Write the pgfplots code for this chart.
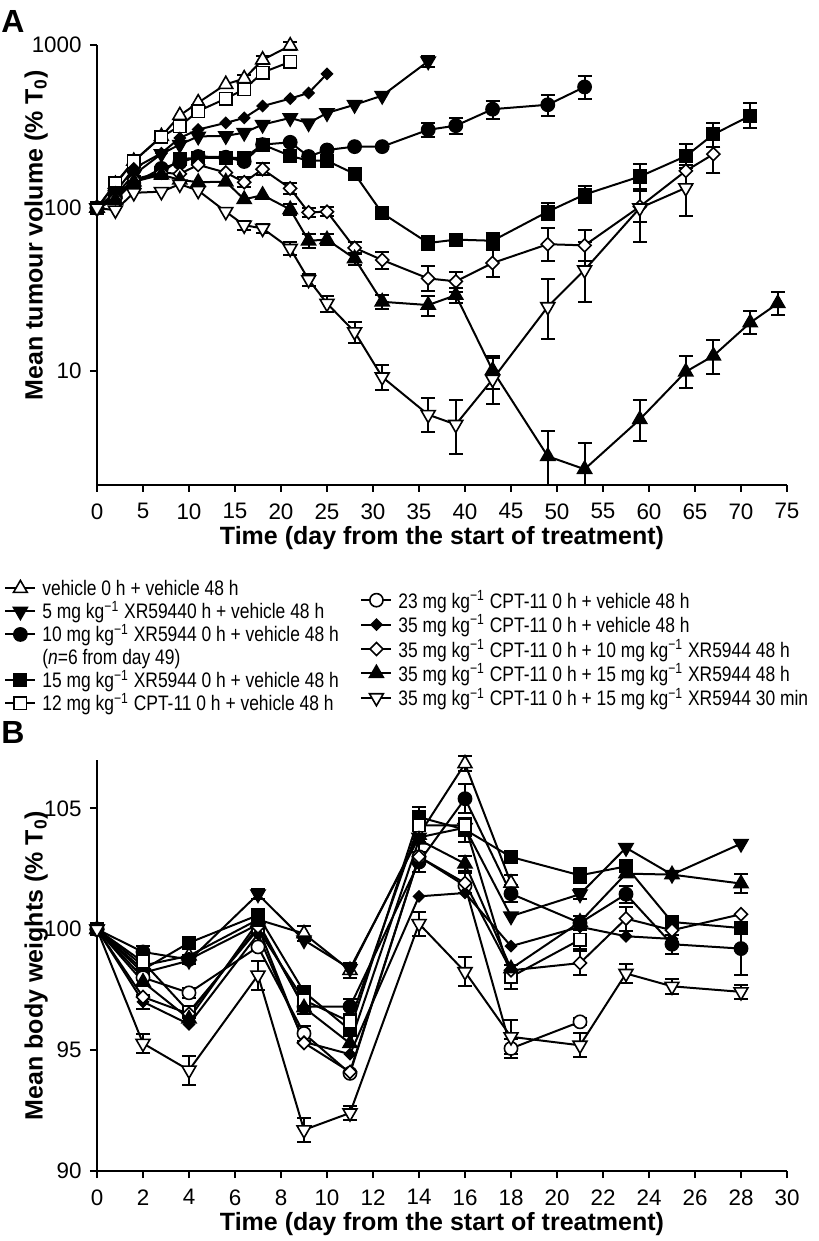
\documentclass[border=0pt]{standalone}
\usepackage{pgfplots}
\pgfplotsset{compat=1.18}
\usepackage{fontspec}
\setmainfont{Liberation Sans}
\newfontfamily\condfont{Liberation Sans}[FakeStretch=0.83]
\newcommand\ticksize{\fontsize{11.2bp}{13bp}\selectfont}
\newcommand\labsize{\fontsize{12.5bp}{15bp}\selectfont\bfseries}
\newcommand\legfont{\condfont\fontsize{10.5bp}{12bp}\selectfont}
\newcommand\kgi{kg\textsuperscript{−1}}
\newcommand\ls{\rule[-2.75bp]{0pt}{11.75bp}}
\newcommand\rs{\rule[-3.4bp]{0pt}{13.1bp}}
\pgfplotsset{
  every axis/.append style={
    scale only axis, axis lines=left, axis line style={-, line width=1bp},
    tick align=outside, major tick length=3.5bp, tick style={line width=1bp, black},
    tick label style={font=\ticksize}, label style={font=\labsize},
    xticklabel style={inner sep=1bp, yshift=-4.5bp}, yticklabel style={inner sep=1.5bp, xshift=-2.5bp},
    /pgf/number format/assume math mode=true, clip=false,
    legend image code/.code={\draw[mark repeat=2,mark phase=2,#1] plot coordinates {(0bp,0bp)(7.5bp,0bp)(15bp,0bp)};},
    legend cell align=left,
  },
  sVeh/.style={black, line width=1bp, mark=triangle*, mark size=4bp, mark options={solid, line width=0.8bp, fill=white}},
  sFive/.style={black, line width=1bp, mark=triangle*, mark size=4bp, mark options={solid, line width=0.8bp, fill=black, rotate=180}},
  sTen/.style={black, line width=1bp, mark=*, mark size=3.3bp, mark options={solid, line width=0.8bp, fill=black}},
  sFift/.style={black, line width=1bp, mark=square*, mark size=3.1bp, mark options={solid, line width=0.8bp, fill=black}},
  sTwel/.style={black, line width=1bp, mark=square*, mark size=3.1bp, mark options={solid, line width=0.8bp, fill=white}},
  sTwTh/.style={black, line width=1bp, mark=*, mark size=3.3bp, mark options={solid, line width=0.8bp, fill=white}},
  sCptV/.style={black, line width=1bp, mark=square*, mark size=1.9bp, mark options={solid, line width=0.8bp, fill=black, rotate=45}},
  sCptT/.style={black, line width=1bp, mark=square*, mark size=2.3bp, mark options={solid, line width=0.8bp, fill=white, rotate=45}},
  sCptF/.style={black, line width=1bp, mark=triangle*, mark size=4bp, mark options={solid, line width=0.8bp, fill=black}},
  sCptM/.style={black, line width=1bp, mark=triangle*, mark size=4bp, mark options={solid, line width=0.8bp, fill=white, rotate=180}},
  errs/.style={only marks, mark=none, forget plot, black,
    error bars/.cd, y dir=both, y explicit, error bar style={line width=1bp, black},
    error mark=|, error mark options={line width=1bp, mark size=3.5bp, black}},
  legbase/.style={draw=none, fill=none, font=\legfont, inner sep=0pt, row sep=0pt,
    nodes={inner sep=0.5bp}, /tikz/every odd column/.style={column sep=2.5bp}},
}
\begin{document}
\begin{tikzpicture}
\useasboundingbox (0bp,0bp) rectangle (409.5bp,-620.5bp);
\node[font=\fontsize{16bp}{18bp}\selectfont\bfseries] at (6.5bp,-10.5bp) {A};
\node[font=\fontsize{16bp}{18bp}\selectfont\bfseries] at (6.5bp,-366bp) {B};
% ---------------- Panel A ----------------
\begin{axis}[at={(48.5bp,-22.5bp)}, anchor=north west, width=345bp, height=220bp,
  xmin=0, xmax=75, ymode=log, ymin=2, ymax=1000, yminorticks=false,
  xtick={0,5,...,75}, ytick={10,100,1000}, yticklabels={10,100,1000},
  xlabel={Time (day from the start of treatment)},
  ylabel={Mean tumour volume (\% T\textsubscript{0})},
  xlabel style={at={(axis description cs:0.5,-0.12)}, anchor=center},
  ylabel style={at={(axis description cs:-0.088,0.568)}, anchor=center},
  legend style={legbase, at={(axis description cs:-0.1348,-0.208)}, anchor=north west},
]
% error bars
\addplot[errs] table[x=x,y=y,y error plus=ep,y error minus=em,row sep=\\]{x y ep em\\ 16 622 35 35\\ 18 811 45 45\\ 21 990 55 55\\};
\addplot[errs] table[x=x,y=y,y error plus=ep,y error minus=em,row sep=\\]{x y ep em\\ 21 789 30 30\\};
\addplot[errs] table[x=x,y=y,y error plus=ep,y error minus=em,row sep=\\]{x y ep em\\ 36 795 60 60\\};
\addplot[errs] table[x=x,y=y,y error plus=ep,y error minus=em,row sep=\\]{x y ep em\\ 36 302 30 30\\ 39 320 35 35\\ 43 404 50 50\\ 49 430 65 65\\ 53 553 90 85\\};
\addplot[errs] table[x=x,y=y,y error plus=ep,y error minus=em,row sep=\\]{x y ep em\\ 36 61 6 6\\ 39 64 4 4\\ 43 63 7 7\\ 49 95 12 11\\ 53 121 15 14\\ 59 156 30 26\\ 64 208 38 33\\ 67 283 50 45\\ 71 368 70 60\\};
\addplot[errs] table[x=x,y=y,y error plus=ep,y error minus=em,row sep=\\]{x y ep em\\ 16 144 10 10\\ 18 173 15 14\\ 21 132 10 10\\ 23 94 6 6\\ 25 95 6 6\\ 28 57 5 5\\ 31 48 6 6\\ 36 37 7 6\\ 39 35.5 5 5\\ 43 46 9 8\\ 49 60 15 13\\ 53 59 14 12\\ 59 102 25 20\\ 64 169 35 30\\ 67 214 60 50\\};
\addplot[errs] table[x=x,y=y,y error plus=ep,y error minus=em,row sep=\\]{x y ep em\\ 21 98 8 8\\ 23 63 6 6\\ 25 64 5 5\\ 28 49 4 4\\ 31 26.6 2.5 2.5\\ 36 25.4 3.5 3.5\\ 39 29.2 3 3\\ 43 10.1 2.3 2.3\\ 49 3.0 1.3 1.0\\ 53 2.5 1.1 0.5\\ 59 5.05 1.6 1.3\\ 64 9.9 2.4 2.0\\ 67 12.4 3.2 2.8\\ 71 19.8 3.6 3.0\\ 74 26 4.5 4\\};
\addplot[errs] table[x=x,y=y,y error plus=ep,y error minus=em,row sep=\\]{x y ep em\\ 16 78.5 5 5\\ 18 75 5 5\\ 21 56.5 5 5\\ 23 36.4 3 3\\ 25 26 3 3\\ 28 17.4 2.5 2.5\\ 31 9.2 1.7 1.5\\ 36 5.4 1.4 1.2\\ 39 4.7 1.9 1.6\\ 43 8.9 3.2 2.6\\ 49 24.8 12 9\\ 53 41.7 20 15\\ 59 100 70 38\\ 64 133 50 44\\};
% series
\addplot[sVeh, forget plot] coordinates {(0,100)(2,140)(4,194)(7,275)(9,370)(11,443)(14,574)(16,622)(18,811)(21,990)};
\addplot[sTwel, forget plot] coordinates {(0,100)(2,142)(4,194)(7,273)(9,318)(11,393)(14,469)(16,535)(18,678)(21,789)};
\addplot[sCptV, forget plot] coordinates {(0,100)(2,125)(4,175)(7,217)(9,269)(11,303)(14,333)(16,357)(18,422)(21,469)(23,508)(25,665)};
\addplot[sFive, forget plot] coordinates {(0,100)(2,120)(4,160)(7,215)(9,245)(11,275)(14,277)(16,290)(18,325)(21,357)(23,332)(25,383)(28,430)(31,489)(36,795)};
\addplot[sTen, forget plot] coordinates {(0,100)(2,117)(4,142)(7,175)(9,190)(11,207)(14,205)(16,193)(18,245)(21,253)(23,207)(25,227)(28,238)(31,238)(36,302)(39,320)(43,404)(49,430)(53,553)};
\addplot[sFift, forget plot] coordinates {(0,100)(2,123)(4,145)(7,164)(9,200)(11,203)(14,203)(16,203)(18,245)(21,209)(23,195)(25,195)(28,162)(31,93)(36,61)(39,64)(43,63)(49,95)(53,121)(59,156)(64,208)(67,283)(71,368)};
\addplot[sCptT, forget plot] coordinates {(0,100)(2,115)(4,150)(7,165)(9,162)(11,184)(14,165)(16,144)(18,173)(21,132)(23,94)(25,95)(28,57)(31,48)(36,37)(39,35.5)(43,46)(49,60)(53,59)(59,102)(64,169)(67,214)};
\addplot[sCptF, forget plot] coordinates {(0,100)(2,112)(4,145)(7,160)(9,149)(11,144)(14,145)(16,113)(18,120)(21,98)(23,63)(25,64)(28,49)(31,26.6)(36,25.4)(39,29.2)(43,10.1)(49,3.0)(53,2.5)(59,5.05)(64,9.9)(67,12.4)(71,19.8)(74,26)};
\addplot[sCptM, forget plot] coordinates {(0,100)(2,97)(4,124)(7,126)(9,140)(11,128)(14,95)(16,78.5)(18,75)(21,56.5)(23,36.4)(25,26)(28,17.4)(31,9.2)(36,5.4)(39,4.7)(43,8.9)(49,24.8)(53,41.7)(59,100)(64,133)};
% legend (left column)
\addlegendimage{sVeh}\addlegendentry{\ls vehicle 0 h + vehicle 48 h}
\addlegendimage{sFive}\addlegendentry{\ls 5 mg \kgi{} XR59440 h + vehicle 48 h}
\addlegendimage{sTen}\addlegendentry{\ls 10 mg \kgi{} XR5944 0 h + vehicle 48 h}
\addlegendimage{empty legend}\addlegendentry{\ls (\textit{n}=6 from day 49)}
\addlegendimage{sFift}\addlegendentry{\ls 15 mg \kgi{} XR5944 0 h + vehicle 48 h}
\addlegendimage{sTwel}\addlegendentry{\ls 12 mg \kgi{} CPT-11 0 h + vehicle 48 h}
\end{axis}
% ---------------- Panel B ----------------
\begin{axis}[at={(48.5bp,-380bp)}, anchor=north west, width=345bp, height=205.5bp,
  xmin=0, xmax=30, ymin=90, ymax=107,
  xtick={0,2,...,30}, ytick={90,95,100,105},
  xlabel={Time (day from the start of treatment)},
  ylabel={Mean body weights (\% T\textsubscript{0})},
  xlabel style={at={(axis description cs:0.5,-0.128)}, anchor=center},
  ylabel style={at={(axis description cs:-0.088,0.5)}, anchor=center},
  legend style={legbase, at={(axis description cs:0.3812,1.4195)}, anchor=north west},
]
\addplot[errs] table[x=x,y=y,y error=e,row sep=\\]{x y e\\ 9 99.82 0.3\\ 11 98.3 0.3\\ 14 103.9 0.3\\ 16 106.85 0.3\\ 18 101.91 0.35\\};
\addplot[errs] table[x=x,y=y,y error=e,row sep=\\]{x y e\\ 7 101.45 0.2\\ 16 104.2 0.3\\ 21 101.45 0.2\\};
\addplot[errs] table[x=x,y=y,y error=e,row sep=\\]{x y e\\ 2 99.06 0.25\\ 4 98.75 0.2\\ 9 96.8 0.3\\ 11 96.8 0.3\\ 14 102.78 0.4\\ 16 105.4 0.6\\ 18 101.47 0.35\\ 21 100.26 0.3\\ 23 101.45 0.35\\ 25 99.38 0.4\\ 28 99.2 1.1\\};
\addplot[errs] table[x=x,y=y,y error=e,row sep=\\]{x y e\\ 14 104.64 0.4\\ 16 104.12 0.5\\ 21 102.23 0.3\\ 23 102.6 0.2\\};
\addplot[errs] table[x=x,y=y,y error=e,row sep=\\]{x y e\\ 2 98.65 0.3\\ 18 98.03 0.5\\ 21 99.57 0.4\\};
\addplot[errs] table[x=x,y=y,y error=e,row sep=\\]{x y e\\ 4 97.37 0.2\\ 9 95.69 0.3\\ 18 95.07 0.4\\ 21 96.17 0.15\\};
\addplot[errs] table[x=x,y=y,y error=e,row sep=\\]{x y e\\ 2 97.0 0.3\\};
\addplot[errs] table[x=x,y=y,y error=e,row sep=\\]{x y e\\ 16 101.91 0.4\\ 21 98.6 0.5\\ 23 100.44 0.5\\};
\addplot[errs] table[x=x,y=y,y error=e,row sep=\\]{x y e\\ 14 103.7 0.5\\ 16 102.71 0.3\\ 28 101.89 0.4\\};
\addplot[errs] table[x=x,y=y,y error=e,row sep=\\]{x y e\\ 2 95.28 0.4\\ 4 94.17 0.6\\ 7 98.1 0.6\\ 9 91.7 0.5\\ 11 92.4 0.3\\ 14 100.23 0.5\\ 16 98.24 0.6\\ 18 95.55 0.7\\ 21 95.2 0.5\\ 23 98.17 0.4\\ 25 97.64 0.3\\ 28 97.41 0.3\\};
\addplot[sVeh, forget plot] coordinates {(0,100)(2,98.5)(4,98.9)(7,100.4)(9,99.82)(11,98.3)(14,103.9)(16,106.85)(18,101.91)};
\addplot[sFive, forget plot] coordinates {(0,100)(2,98.2)(4,98.7)(7,101.45)(9,99.55)(11,98.37)(14,103.8)(16,104.2)(18,100.54)(21,101.45)(23,103.37)(25,102.26)(28,103.54)};
\addplot[sTen, forget plot] coordinates {(0,100)(2,99.06)(4,98.75)(7,100.2)(9,96.8)(11,96.8)(14,102.78)(16,105.4)(18,101.47)(21,100.26)(23,101.45)(25,99.38)(28,99.2)};
\addplot[sFift, forget plot] coordinates {(0,100)(2,98.33)(4,99.44)(7,100.58)(9,97.41)(11,95.83)(14,104.64)(16,104.12)(18,102.99)(21,102.23)(23,102.6)(25,100.3)(28,100.05)};
\addplot[sTwel, forget plot] coordinates {(0,100)(2,98.65)(4,96.58)(7,100.0)(9,97.07)(11,96.17)(14,104.3)(16,104.3)(18,98.03)(21,99.57)};
\addplot[sTwTh, forget plot] coordinates {(0,100)(2,98.0)(4,97.37)(7,99.27)(9,95.69)(11,94.04)(14,103.0)(16,101.8)(18,95.07)(21,96.17)};
\addplot[sCptV, forget plot] coordinates {(0,100)(2,97.0)(4,96.07)(7,99.8)(9,95.34)(11,94.83)(14,101.36)(16,101.5)(18,99.3)(21,100.1)(23,99.71)(25,99.6)};
\addplot[sCptT, forget plot] coordinates {(0,100)(2,97.2)(4,96.5)(7,100.1)(9,95.3)(11,94.1)(14,103.0)(16,101.91)(18,98.3)(21,98.6)(23,100.44)(25,99.96)(28,100.62)};
\addplot[sCptF, forget plot] coordinates {(0,100)(2,97.82)(4,96.3)(7,100.3)(9,96.76)(11,95.28)(14,103.7)(16,102.71)(18,98.37)(21,100.3)(23,102.3)(25,102.26)(28,101.89)};
\addplot[sCptM, forget plot] coordinates {(0,100)(2,95.28)(4,94.17)(7,98.1)(9,91.7)(11,92.4)(14,100.23)(16,98.24)(18,95.55)(21,95.2)(23,98.17)(25,97.64)(28,97.41)};
% legend (right column)
\addlegendimage{sTwTh}\addlegendentry{\rs 23 mg \kgi{} CPT-11 0 h + vehicle 48 h}
\addlegendimage{sCptV}\addlegendentry{\rs 35 mg \kgi{} CPT-11 0 h + vehicle 48 h}
\addlegendimage{sCptT}\addlegendentry{\rs 35 mg \kgi{} CPT-11 0 h + 10 mg \kgi{} XR5944 48 h}
\addlegendimage{sCptF}\addlegendentry{\rs 35 mg \kgi{} CPT-11 0 h + 15 mg \kgi{} XR5944 48 h}
\addlegendimage{sCptM}\addlegendentry{\rs 35 mg \kgi{} CPT-11 0 h + 15 mg \kgi{} XR5944 30 min}
\end{axis}
\end{tikzpicture}
\end{document}
